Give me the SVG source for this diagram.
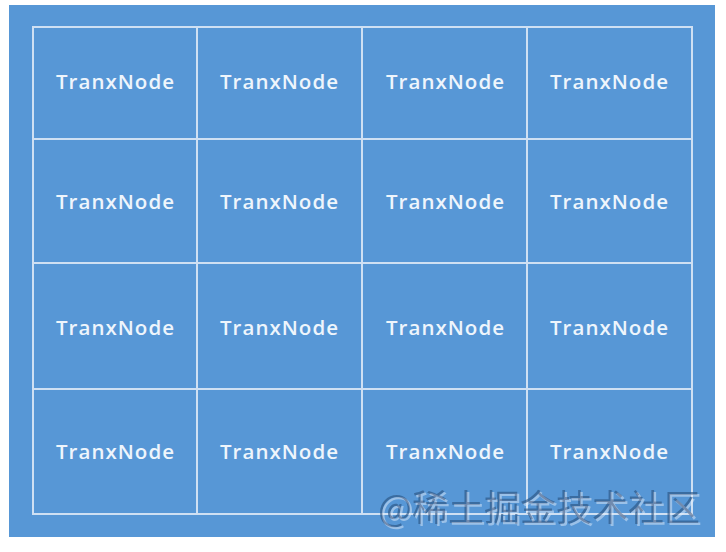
<svg xmlns="http://www.w3.org/2000/svg" width="726" height="552" viewBox="0 0 726 552">
<defs>
<filter id="sh" x="-5%" y="-20%" width="110%" height="140%">
<feDropShadow dx="2" dy="2" stdDeviation="0.5" flood-color="#e4eefa" flood-opacity="0.75"/>
</filter>
</defs>
<style>
.cell{fill:none;stroke:#cfe0f3;stroke-width:2}
.lbl{font-family:"Open Sans","Liberation Sans",sans-serif;font-size:20.5px;font-weight:600;fill:#eef5fc;text-anchor:middle;dominant-baseline:central}
.wm{font-family:"Noto Sans CJK SC",sans-serif;font-size:36px;fill:#2c5684;fill-opacity:0.65}
</style>
<rect x="0" y="0" width="726" height="552" fill="#ffffff"/>
<rect x="9" y="5" width="706" height="532" fill="#5797d6"/>
<g id="connectors"></g>
<g id="n11"><rect class="cell" x="33" y="27" width="164" height="112"/><text class="lbl" x="115" y="81" textLength="118" lengthAdjust="spacing">TranxNode</text></g>
<g id="n12"><rect class="cell" x="197" y="27" width="165" height="112"/><text class="lbl" x="279" y="81" textLength="118" lengthAdjust="spacing">TranxNode</text></g>
<g id="n13"><rect class="cell" x="362" y="27" width="165" height="112"/><text class="lbl" x="445" y="81" textLength="118" lengthAdjust="spacing">TranxNode</text></g>
<g id="n14"><rect class="cell" x="527" y="27" width="165" height="112"/><text class="lbl" x="609" y="81" textLength="118" lengthAdjust="spacing">TranxNode</text></g>
<g id="n21"><rect class="cell" x="33" y="139" width="164" height="124"/><text class="lbl" x="115" y="201" textLength="118" lengthAdjust="spacing">TranxNode</text></g>
<g id="n22"><rect class="cell" x="197" y="139" width="165" height="124"/><text class="lbl" x="279" y="201" textLength="118" lengthAdjust="spacing">TranxNode</text></g>
<g id="n23"><rect class="cell" x="362" y="139" width="165" height="124"/><text class="lbl" x="445" y="201" textLength="118" lengthAdjust="spacing">TranxNode</text></g>
<g id="n24"><rect class="cell" x="527" y="139" width="165" height="124"/><text class="lbl" x="609" y="201" textLength="118" lengthAdjust="spacing">TranxNode</text></g>
<g id="n31"><rect class="cell" x="33" y="263" width="164" height="126"/><text class="lbl" x="115" y="327" textLength="118" lengthAdjust="spacing">TranxNode</text></g>
<g id="n32"><rect class="cell" x="197" y="263" width="165" height="126"/><text class="lbl" x="279" y="327" textLength="118" lengthAdjust="spacing">TranxNode</text></g>
<g id="n33"><rect class="cell" x="362" y="263" width="165" height="126"/><text class="lbl" x="445" y="327" textLength="118" lengthAdjust="spacing">TranxNode</text></g>
<g id="n34"><rect class="cell" x="527" y="263" width="165" height="126"/><text class="lbl" x="609" y="327" textLength="118" lengthAdjust="spacing">TranxNode</text></g>
<g id="n41"><rect class="cell" x="33" y="389" width="164" height="125"/><text class="lbl" x="115" y="451" textLength="118" lengthAdjust="spacing">TranxNode</text></g>
<g id="n42"><rect class="cell" x="197" y="389" width="165" height="125"/><text class="lbl" x="279" y="451" textLength="118" lengthAdjust="spacing">TranxNode</text></g>
<g id="n43"><rect class="cell" x="362" y="389" width="165" height="125"/><text class="lbl" x="445" y="451" textLength="118" lengthAdjust="spacing">TranxNode</text></g>
<g id="n44"><rect class="cell" x="527" y="389" width="165" height="125"/><text class="lbl" x="609" y="451" textLength="118" lengthAdjust="spacing">TranxNode</text></g>
<g id="watermark">
<text class="wm" x="378" y="521" filter="url(#sh)">@稀土掘金技术社区</text>
</g>
</svg>
